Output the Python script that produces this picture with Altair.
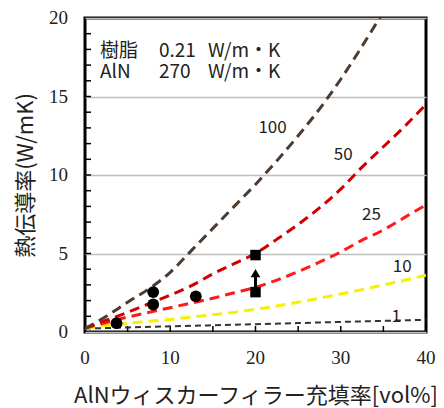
import altair as alt
import pandas as pd

# ---- data ----
x_grid = [0, 2.5, 5, 7.5, 10, 12.5, 15, 17.5, 20, 22.5, 25, 27.5, 30, 32.5, 35, 37.5, 40]
k_100 = [0.21, 1.0, 1.9, 2.75, 3.8, 5.2, 6.6, 8.0, 9.4, 10.9, 12.5, 14.2, 16.1, 18.2, 20.4]
k_50 = [0.25, 0.75, 1.25, 1.8, 2.35, 2.95, 3.7, 4.35, 5.0, 5.9, 6.85, 7.9, 9.1, 10.5, 11.8, 13.1, 14.5]
k_25 = [0.25, 0.6, 0.95, 1.25, 1.55, 1.85, 2.15, 2.5, 2.85, 3.3, 3.85, 4.45, 5.1, 5.85, 6.5, 7.3, 8.1]
k_10 = [0.22, 0.42, 0.55, 0.68, 0.8, 0.95, 1.1, 1.25, 1.45, 1.65, 1.9, 2.15, 2.42, 2.7, 3.0, 3.3, 3.62]
x_1 = [0, 10, 20, 30, 40]
k_1 = [0.22, 0.36, 0.5, 0.64, 0.78]

circle_x = [3.7, 8, 8, 13]
circle_y = [0.56, 1.75, 2.54, 2.27]
square_x = [20, 20]
square_y = [2.54, 4.9]
tri_x = [20]
tri_y = [3.75]
arrow_y_from = [2.6]
arrow_y_to = [3.55]

curve_labels = ["100", "50", "25", "10", "1"]
label_x = [22.0, 30.3, 33.6, 37.2, 36.5]
label_y = [13.0, 11.26, 7.43, 4.12, 0.95]

note_row1 = ["樹脂", "0.21", "W/m・K"]
note_row2 = ["AlN", "270", "W/m・K"]

x_ticks = [0, 10, 20, 30, 40]
y_ticks = [0, 5, 10, 15, 20]
x_minor = [5, 10, 15, 20, 25, 30, 35]
y_minor = list(range(1, 20))

# ---- encodings ----
LBL_FONT = "Liberation Serif"
TXT_FONT = "Noto Sans CJK JP"

X = alt.X("x:Q", scale=alt.Scale(domain=[0, 40], nice=False),
          axis=alt.Axis(values=x_ticks, grid=False, ticks=False, domain=False, labels=False,
                        title="AlNウィスカーフィラー充填率[vol%]",
                        titleFont=TXT_FONT, titleFontSize=22, titleFontWeight="normal",
                        titleColor="#222", titleY=63, titleBaseline="middle"))
Y = alt.Y("y:Q", scale=alt.Scale(domain=[0, 20], nice=False),
          axis=alt.Axis(values=y_ticks, grid=True, gridColor="#bdbdbd", gridWidth=1.5,
                        ticks=False, domain=False, labels=False,
                        title="熱伝導率(W/mK)",
                        titleFont=TXT_FONT, titleFontSize=22, titleFontWeight="normal",
                        titleColor="#222", titleX=-60, titleY=157, titleAngle=270,
                        titleBaseline="middle", titleAlign="center"))

def curve(xs, ys, color, width, dash):
    df = pd.DataFrame({"x": xs[:len(ys)], "y": ys})
    return alt.Chart(df).mark_line(color=color, strokeWidth=width, strokeDash=dash,
                                   interpolate="monotone", clip=True).encode(x=X, y=Y)

layers = []
# inward minor ticks
layers.append(alt.Chart(pd.DataFrame({"x": x_minor})).mark_rule(color="black", strokeWidth=1.5)
              .encode(x=X, y=alt.value(314), y2=alt.value(308)))
layers.append(alt.Chart(pd.DataFrame({"y": y_minor})).mark_rule(color="black", strokeWidth=1.5)
              .encode(y=Y, x=alt.value(0), x2=alt.value(6)))

# tick labels (serif)
layers.append(alt.Chart(pd.DataFrame({"x": x_ticks, "t": [str(v) for v in x_ticks]}))
              .mark_text(font=LBL_FONT, fontSize=19, color="#222", align="center", baseline="middle")
              .encode(x=X, y=alt.value(340), text="t:N"))
layers.append(alt.Chart(pd.DataFrame({"y": y_ticks, "t": [str(v) for v in y_ticks]}))
              .mark_text(font=LBL_FONT, fontSize=19, color="#222", align="right", baseline="middle")
              .encode(y=Y, x=alt.value(-17), text="t:N"))

layers.append(curve(x_1, k_1, "#333333", 2, [6, 4]))
layers.append(curve(x_grid, k_10, "#f7f000", 3, [10, 6]))
layers.append(curve(x_grid, k_25, "#ff1a1a", 3, [10, 6]))
layers.append(curve(x_grid, k_50, "#d00000", 3, [10, 6]))
layers.append(curve(x_grid, k_100, "#4d3b30", 3, [10, 6]))

# arrow shaft
layers.append(alt.Chart(pd.DataFrame({"x": tri_x, "y": arrow_y_from, "y2": arrow_y_to}))
              .mark_rule(color="black", strokeWidth=3)
              .encode(x=X, y=Y, y2="y2:Q"))
layers.append(alt.Chart(pd.DataFrame({"x": circle_x, "y": circle_y}))
              .mark_point(shape="circle", filled=True, color="black", size=140, opacity=1)
              .encode(x=X, y=Y))
layers.append(alt.Chart(pd.DataFrame({"x": square_x, "y": square_y}))
              .mark_point(shape="square", filled=True, color="black", size=110, opacity=1)
              .encode(x=X, y=Y))
layers.append(alt.Chart(pd.DataFrame({"x": tri_x, "y": tri_y}))
              .mark_point(shape="triangle-up", filled=True, color="black", size=95, opacity=1)
              .encode(x=X, y=Y))

layers.append(alt.Chart(pd.DataFrame({"x": label_x, "y": label_y, "t": curve_labels}))
              .mark_text(font=TXT_FONT, fontSize=17, color="#222", align="center", baseline="middle")
              .encode(x=X, y=Y, text="t:N"))

col_px = [15, 74, 123]
for row, py in ((note_row1, 33), (note_row2, 54)):
    for txt, px in zip(row, col_px):
        layers.append(alt.Chart(pd.DataFrame({"t": [txt]})).mark_text(
            font=TXT_FONT, fontSize=19, color="#222", align="left", baseline="middle")
            .encode(text="t:N", x=alt.value(px), y=alt.value(py)))

chart = alt.layer(*layers).properties(
    width=341, height=314,
    autosize=alt.AutoSizeParams(type="none"),
    padding={"left": 77, "top": 10, "right": 10, "bottom": 76},
).configure_view(stroke="black", strokeWidth=3)

chart.save("out.html", embed_options={"renderer": "svg", "actions": False})
